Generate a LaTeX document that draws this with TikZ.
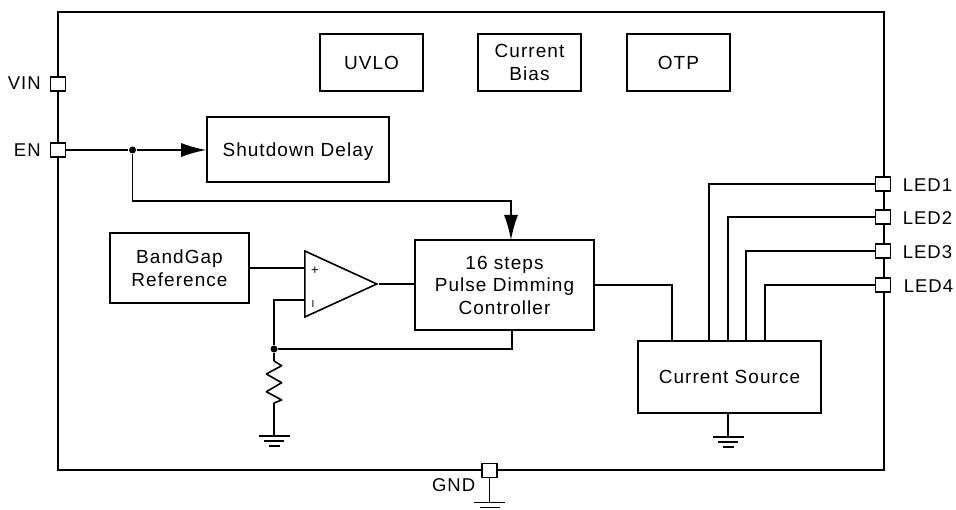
\documentclass[tikz,border=0pt]{standalone}
\usepackage{fontspec}
\setmainfont[LetterSpace=5.5]{Liberation Sans}
\usetikzlibrary{shapes.geometric,arrows.meta}

\begin{document}
\begin{tikzpicture}[
  x=1pt,y=-1pt,
  line width=1.6pt,
  bloc/.style={rectangle,draw,inner sep=0pt,align=center,font=\fontsize{19}{22.5}\selectfont},
  ligne/.style={text height=13.5pt,text depth=0pt},
  pad/.style={rectangle,draw,fill=white,minimum width=15pt,minimum height=14pt,inner sep=0pt},
  pin/.style={inner sep=0pt,font=\fontsize{18.5}{20}\selectfont},
  point/.style={circle,fill,minimum size=7pt,inner sep=0pt},
  ampli/.style={isosceles triangle,isosceles triangle stretches,draw,minimum width=66pt,minimum height=72pt,inner sep=0pt,anchor=west},
  masse/.pic={\draw (-15.5,0) -- (15.5,0) (-10,5) -- (10,5) (-5.5,10) -- (5.5,10);},
  fleche/.style={-{Latex[length=25pt,width=14pt]}}
]
\useasboundingbox (0,0) rectangle (956,510);

\node[draw,minimum width=826pt,minimum height=458pt,inner sep=0pt] (boitier) at (471,241) {};

% blocs
\node[bloc,ligne,minimum width=103pt,minimum height=57pt] (uvlo) at (371.5,62.5) {UVLO};
\node[bloc,minimum width=103pt,minimum height=57pt] (bias) at (529.5,62.5) {Current\\Bias};
\node[bloc,ligne,minimum width=103pt,minimum height=57pt] (otp) at (678.5,62.5) {OTP};
\node[bloc,ligne,minimum width=182pt,minimum height=65pt] (delay) at (298,149.5) {Shutdown Delay};
\node[bloc,minimum width=139pt,minimum height=70pt] (bandgap) at (179.5,268) {BandGap\\Reference};
\node[bloc,minimum width=179pt,minimum height=90pt] (dimming) at (504.5,285) {16 steps\\Pulse Dimming\\Controller};
\node[bloc,ligne,minimum width=183pt,minimum height=72pt] (source) at (729.5,377) {Current Source};
\node[ampli] (ampli) at (304,284) {};
\node[font=\fontsize{13}{13}\selectfont,inner sep=0pt] (plus) at (315,270.5) {+};
\node[font=\fontsize{10}{10}\selectfont,inner sep=0pt] (moins) at (313,304) {I};

% broches
\node[pad] (vin) at (58,84) {};
\node[pad] (en) at (58,150) {};
\node[pad] (led1) at (883,184) {};
\node[pad] (led2) at (883,217) {};
\node[pad] (led3) at (883,251) {};
\node[pad] (led4) at (883,285) {};
\node[pad] (gnd) at (489.5,470.5) {};
\node[pin,anchor=east] (tvin) at (41.5,83.5) {VIN};
\node[pin,anchor=east] (ten) at (41.5,150.5) {EN};
\node[pin,anchor=west] (tled1) at (902,185.5) {LED1};
\node[pin,anchor=west] (tled2) at (902,218) {LED2};
\node[pin,anchor=west] (tled3) at (902,252) {LED3};
\node[pin,anchor=west] (tled4) at (903,286) {LED4};
\node[pin,anchor=east] (tgnd) at (476,485) {GND};

% liaisons
\node[point] (j1) at (132.5,150) {};
\node[point] (j2) at (274,349) {};
\coordinate (r1) at (274,361);
\coordinate (r2) at (274,403);
\coordinate (t1) at (274,436);
\coordinate (t2) at (728,437);
\coordinate (t3) at (489.5,502.5);

\draw (en) -- (j1);
\draw[fleche] (j1) -- (delay.west |- j1);
\draw[fleche] (j1) |- (511,201) -- (511,240);
\draw (bandgap.east |- 0,268) -- (304,268);
\draw (ampli.east) -- (dimming.west |- ampli.east);
\draw (304,300) -| (j2);
\draw (512,330) |- (j2);
\draw (j2) -- (r1);
\draw[line join=round] (r1) -- (281.7,365.7) -- (266.3,374) -- (281.7,382.7) -- (266.3,391.7) -- (281.7,400) -- (r2);
\draw (r2) -- (t1);
\draw (dimming.east) -| (672,341);
\draw (led1) -| (709,341);
\draw (led2) -| (728,341);
\draw (led3) -| (746,341);
\draw (led4) -| (765,341);
\draw (source.south -| t2) -- (t2);
\draw (gnd) -- (t3);
\pic at (t1) {masse};
\pic at (t2) {masse};
\pic at (t3) {masse};

\end{tikzpicture}
\end{document}
